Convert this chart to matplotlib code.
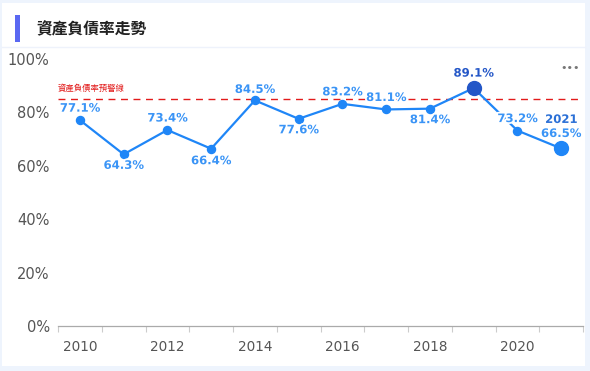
import matplotlib
matplotlib.use('Agg')
import matplotlib.pyplot as plt
import matplotlib.patheffects as pe
from matplotlib.patches import Rectangle
from matplotlib.lines import Line2D

plt.rcParams['font.family'] = ['DejaVu Sans', 'Noto Sans CJK TC']

# ---------- 数据 ----------
years = ['2010', '2011', '2012', '2013', '2014', '2015',
         '2016', '2017', '2018', '2019', '2020', '2021']
ratio = [77.1, 64.3, 73.4, 66.4, 84.5, 77.6, 83.2, 81.1, 81.4, 89.1, 73.2, 66.5]
warn_level = 85
y_ticks = [0, 20, 40, 60, 80, 100]

# 标签偏移 (像素)
label_dy = [12, -11, 12, -12, 11, -11, 12, 12, -11, 15, 12, 15]
label_dx = [0, 0, 0, 0, 0, 0, 0, 0, 0, 0, 0, 0]

blue = '#1f86f7'
label_blue = '#3a94f6'
dark_blue = '#2356c7'


def main():
    fig = plt.figure(figsize=(5.9, 3.71), dpi=100)
    fig.patch.set_facecolor('#eef4fd')

    # 白色卡片
    fig.patches.append(Rectangle((2 / 590, 5 / 371), 583 / 590, 363 / 371,
                                 transform=fig.transFigure, facecolor='white',
                                 edgecolor='none', zorder=0))
    # 标题竖条
    fig.patches.append(Rectangle((15 / 590, 1 - 42 / 371), 4.5 / 590, 27 / 371,
                                 transform=fig.transFigure, facecolor='#5a68f2',
                                 edgecolor='none', zorder=1))
    fig.lines.append(Line2D([2 / 590, 585 / 590], [1 - 47 / 371, 1 - 47 / 371],
                            transform=fig.transFigure, color='#eef2fb', lw=1))
    fig.text(36 / 590, 1 - 29 / 371, '資產負債率走勢', fontsize=11.3,
             fontweight='bold', color='#222222', va='center', ha='left',
             family=['Noto Sans CJK TC', 'DejaVu Sans'])
    fig.text(570 / 590, 1 - 68 / 371, '•••', fontsize=8, color='#777777',
             ha='center', va='center')

    ax = fig.add_axes([58 / 590, 45 / 371, 525 / 590, 267 / 371])
    ax.set_zorder(5)
    ax.set_facecolor('none')
    x = list(range(len(years)))

    ax.plot(x, ratio, color=blue, lw=1.6, zorder=2)
    for i, v in enumerate(ratio):
        if i == 9:
            ax.plot(i, v, 'o', ms=10, color=dark_blue, zorder=3)
        elif i == len(ratio) - 1:
            ax.plot(i, v, 'o', ms=10, color=blue, zorder=3)
        else:
            ax.plot(i, v, 'o', ms=5.8, color=blue, zorder=3)

    halo = [pe.withStroke(linewidth=2.5, foreground='white')]
    for i, v in enumerate(ratio):
        color = dark_blue if i == 9 else label_blue
        ax.annotate('{:.1f}%'.format(v), (i, v),
                    xytext=(label_dx[i], label_dy[i]), textcoords='offset pixels',
                    ha='center', va='center', fontsize=8.4, fontweight='bold',
                    color=color, path_effects=halo, zorder=4)
    ax.annotate(years[-1], (len(years) - 1, ratio[-1]), xytext=(0, 29),
                textcoords='offset pixels', ha='center', va='center',
                fontsize=8.4, fontweight='bold', color='#2a6fd6',
                path_effects=halo, zorder=4)

    # 预警线
    ax.axhline(warn_level, color='#e21b1b', lw=1.0, ls=(0, (5, 4)), zorder=1)
    ax.text(-0.5, warn_level + 2.2, '資產負債率預警線', fontsize=6,
            color='#e21b1b', ha='left', va='bottom',
            family=['Noto Sans CJK TC', 'DejaVu Sans'])

    ax.set_xlim(-0.5, len(years) - 0.5)
    ax.set_ylim(0, 100)
    ax.set_yticks(y_ticks)
    ax.set_yticklabels(['{}%'.format(t) for t in y_ticks])
    ax.set_xticks(x[::2])
    ax.set_xticklabels(years[::2])
    ax.set_xticks([i - 0.5 for i in range(len(years) + 1)], minor=True)

    ax.tick_params(axis='y', length=0, pad=6, labelsize=10.5, labelcolor='#555555')
    ax.tick_params(axis='x', which='major', length=0, pad=10, labelsize=9.8,
                   labelcolor='#555555')
    ax.tick_params(axis='x', which='minor', length=4, color='#cccccc', width=0.8)

    for s in ['top', 'right', 'left']:
        ax.spines[s].set_visible(False)
    ax.spines['bottom'].set_color('#aaaaaa')
    ax.spines['bottom'].set_linewidth(0.9)

    fig.savefig('out.png', dpi=100, facecolor=fig.get_facecolor())
    plt.close(fig)


if __name__ == '__main__':
    main()
